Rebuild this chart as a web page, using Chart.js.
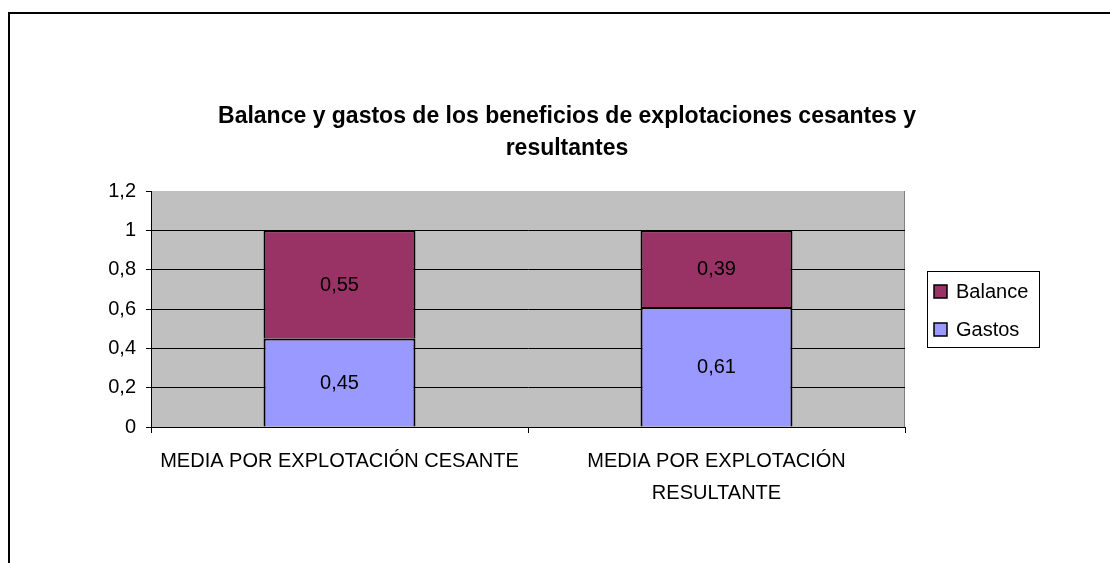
<!DOCTYPE html>
<html>
<head>
<meta charset="utf-8">
<script src="https://cdn.jsdelivr.net/npm/chart.js@4.4.0/dist/chart.umd.min.js"></script>
<style>
  html, body { margin: 0; padding: 0; background: #fff; }
  #marco { position: absolute; left: 8px; top: 12px; width: 1102px; height: 551px; border-left: 2px solid #000; border-top: 2px solid #000; box-sizing: border-box; }
  #caja { position: absolute; left: 0; top: 0; width: 1110px; height: 563px; }
</style>
</head>
<body>
<div id="marco"></div>
<div id="caja"><canvas id="grafico"></canvas></div>
<script>
const titulo = ['Balance y gastos de los beneficios de explotaciones cesantes y', 'resultantes'];
const categorias = [['MEDIA POR EXPLOTACIÓN CESANTE'], ['MEDIA POR EXPLOTACIÓN', 'RESULTANTE']];
const gastos = [0.45, 0.61];
const balance = [0.55, 0.39];
const escalaY = { min: 0, max: 1.2, paso: 0.2 };

const fuente = '"Liberation Sans", Arial, sans-serif';
const coma = v => String(+Number(v).toFixed(2)).replace('.', ',');

// fondo gris del area de trazado
const fondoPlot = {
  id: 'fondoPlot',
  beforeDraw(chart) {
    const { ctx, chartArea: a } = chart;
    ctx.save();
    ctx.fillStyle = '#C0C0C0';
    ctx.fillRect(a.left, a.top, a.right - a.left, a.bottom - a.top);
    ctx.strokeStyle = '#808080';
    ctx.lineWidth = 1;
    ctx.beginPath();
    ctx.moveTo(a.right - 0.5, a.top);
    ctx.lineTo(a.right - 0.5, a.bottom);
    ctx.stroke();
    ctx.restore();
  }
};

// etiquetas de valor dentro de cada barra
const etiquetas = {
  id: 'etiquetas',
  afterDatasetsDraw(chart) {
    const ctx = chart.ctx;
    ctx.save();
    ctx.font = '20px ' + fuente;
    ctx.fillStyle = '#000';
    ctx.textAlign = 'center';
    ctx.textBaseline = 'middle';
    chart.data.datasets.forEach((ds, i) => {
      chart.getDatasetMeta(i).data.forEach((barra, j) => {
        const { x, y, base } = barra.getProps(['x', 'y', 'base'], true);
        ctx.fillText(coma(ds.data[j]), x, (y + base) / 2 + 1);
      });
    });
    ctx.restore();
  }
};

// titulo y leyenda a mano, como en Excel
const adornos = {
  id: 'adornos',
  afterDraw(chart) {
    const ctx = chart.ctx;
    ctx.save();
    ctx.fillStyle = '#000';
    ctx.textAlign = 'center';
    ctx.textBaseline = 'middle';
    ctx.font = 'bold 23px ' + fuente;
    titulo.forEach((t, i) => ctx.fillText(t, 567, 117 + i * 32));

    // leyenda
    ctx.strokeStyle = '#000';
    ctx.lineWidth = 1;
    ctx.strokeRect(927.5, 271.5, 112, 76);
    ctx.font = '20px ' + fuente;
    ctx.textAlign = 'left';
    const items = chart.data.datasets.slice().reverse();
    items.forEach((ds, i) => {
      const cy = 291 + i * 38;
      ctx.fillStyle = ds.backgroundColor;
      ctx.fillRect(934, cy - 6, 13, 13);
      ctx.lineWidth = 1.5;
      ctx.strokeRect(934, cy - 6, 13, 13);
      ctx.fillStyle = '#000';
      ctx.fillText(ds.label, 956, cy + 1);
    });
    ctx.restore();
  }
};

const ctx = document.getElementById('grafico').getContext('2d');
new Chart(ctx, {
  type: 'bar',
  data: {
    labels: categorias,
    datasets: [
      { label: 'Gastos', data: gastos, backgroundColor: '#9999FF', borderColor: '#000', borderWidth: 2 },
      { label: 'Balance', data: balance, backgroundColor: '#993366', borderColor: '#000', borderWidth: 2 }
    ]
  },
  options: {
    responsive: true,
    maintainAspectRatio: false,
    animation: false,
    devicePixelRatio: 1,
    categoryPercentage: 1,
    barPercentage: 0.403,
    layout: { padding: { top: 191, right: 205, left: 0, bottom: 0 } },
    plugins: {
      legend: { display: false },
      title: { display: false },
      tooltip: { enabled: false }
    },
    scales: {
      x: {
        stacked: true,
        afterFit: s => { s.height = 136; },
        grid: { display: true, drawOnChartArea: false, drawTicks: true, tickLength: 6, tickColor: '#000', offset: true },
        border: { color: '#000', width: 1 },
        ticks: { color: '#000', font: { family: fuente, size: 20, lineHeight: 1.6 }, padding: 12, maxRotation: 0, autoSkip: false }
      },
      y: {
        stacked: true,
        min: escalaY.min,
        max: escalaY.max,
        afterFit: s => { s.width = 151; },
        grid: {
          color: c => (c.tick && c.tick.value >= escalaY.max - 1e-9) ? 'rgba(0,0,0,0)' : '#000',
          tickColor: '#000',
          tickLength: 5,
          lineWidth: 1
        },
        border: { color: '#000', width: 1 },
        ticks: { stepSize: escalaY.paso, color: '#000', font: { family: fuente, size: 20 }, padding: 10, callback: v => coma(v) }
      }
    }
  },
  plugins: [fondoPlot, etiquetas, adornos]
});
</script>
</body>
</html>
